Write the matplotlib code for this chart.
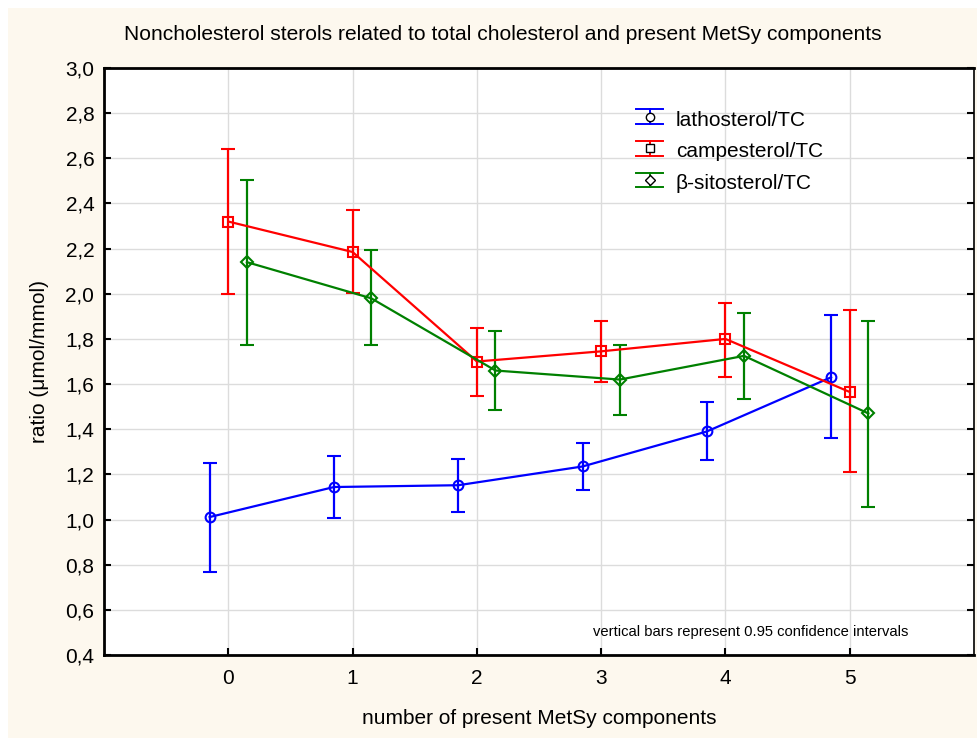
import matplotlib
matplotlib.use("Agg")
import matplotlib.pyplot as plt
from matplotlib.ticker import FuncFormatter, MultipleLocator
from matplotlib.patches import Rectangle
from matplotlib.legend_handler import HandlerBase
from matplotlib.lines import Line2D
import numpy as np

plt.rcParams['font.family'] = ['Liberation Sans', 'DejaVu Sans']

components = [0, 1, 2, 3, 4, 5]
x_ticklabels = ["0", "1", "2", "3", "4", "5"]

latho_mean = [1.011, 1.144, 1.152, 1.235, 1.390, 1.630]
latho_low = [0.768, 1.005, 1.035, 1.130, 1.265, 1.360]
latho_high = [1.251, 1.280, 1.270, 1.340, 1.520, 1.905]

campe_mean = [2.320, 2.185, 1.700, 1.745, 1.800, 1.565]
campe_low = [2.000, 2.005, 1.545, 1.610, 1.630, 1.210]
campe_high = [2.640, 2.370, 1.850, 1.880, 1.960, 1.930]

sito_mean = [2.140, 1.980, 1.660, 1.620, 1.725, 1.470]
sito_low = [1.775, 1.775, 1.485, 1.465, 1.535, 1.055]
sito_high = [2.505, 2.195, 1.835, 1.775, 1.915, 1.880]

series = [
    ("lathosterol/TC", latho_mean, latho_low, latho_high, "#0000ff", "o", -0.15),
    ("campesterol/TC", campe_mean, campe_low, campe_high, "#ff0000", "s", 0.0),
    ("\u03b2-sitosterol/TC", sito_mean, sito_low, sito_high, "#008000", "D", 0.15),
]


class ErrHandle:
    def __init__(self, color, marker):
        self.color = color
        self.marker = marker


class ErrHandler(HandlerBase):
    def create_artists(self, legend, orig, xd, yd, width, height, fontsize, trans):
        c = orig.color
        cy = height / 2 - yd + height * 0.1
        top = cy + height * 0.38
        bot = cy - height * 0.38
        x0, x1 = -xd, -xd + width
        xm = (x0 + x1) / 2
        arts = [
            Line2D([x0, x1], [top, top], color=c, lw=1.4, transform=trans),
            Line2D([x0, x1], [bot, bot], color=c, lw=1.4, transform=trans),
            Line2D([xm, xm], [bot, top], color=c, lw=1.4, transform=trans),
            Line2D([xm], [cy], marker=orig.marker, markersize=6 if orig.marker != "D" else 5.5,
                   markerfacecolor="white", markeredgecolor="black", markeredgewidth=1.0,
                   linestyle="none", transform=trans),
        ]
        return arts


W, H = 977, 738
fig = plt.figure(figsize=(W / 100, H / 100), dpi=100, facecolor="white")
fig.patches.append(Rectangle((8 / W, 0), 1 - 8 / W, 1 - 8 / H, transform=fig.transFigure,
                             facecolor="#fdf8ee", edgecolor="none", zorder=-10))

ax = fig.add_axes([104 / W, 1 - 655 / H, 870 / W, 587 / H])
ax.set_facecolor("white")

handles = []
labels = []
for label, m, lo, hi, col, mk, off in series:
    m = np.array(m); lo = np.array(lo); hi = np.array(hi)
    xs = np.array(components) + off
    ax.errorbar(xs, m, yerr=[m - lo, hi - m], color=col, ecolor=col, lw=1.6,
                elinewidth=1.6, capsize=5, capthick=1.6, marker=mk,
                markersize=7 if mk != "D" else 6, markerfacecolor="none",
                markeredgecolor=col, markeredgewidth=1.5, zorder=3)
    handles.append(ErrHandle(col, mk))
    labels.append(label)

ax.set_xlim(-1, 6)
ax.set_ylim(0.4, 3.0)
ax.set_xticks(components)
ax.set_xticklabels(x_ticklabels)
ax.yaxis.set_major_locator(MultipleLocator(0.2))
ax.yaxis.set_major_formatter(FuncFormatter(lambda v, p: f"{v:.1f}".replace(".", ",")))
ax.grid(True, color="#dcdcdc", lw=1)
ax.set_axisbelow(True)
ax.tick_params(axis="both", direction="in", length=5, width=1.5, labelsize=15, pad=7)
ax.tick_params(axis="x", pad=10)
ax.tick_params(axis="y", right=True, pad=7)
for s in ["left", "bottom", "top"]:
    ax.spines[s].set_linewidth(2)
ax.spines["right"].set_linewidth(1.2)

fig.text(503 / W, 1 - 35 / H, "Noncholesterol sterols related to total cholesterol and present MetSy components",
         ha="center", va="center", fontsize=15.1)
ax.set_xlabel("number of present MetSy components", fontsize=15, labelpad=15)
ax.set_ylabel("ratio (\u03bcmol/mmol)", fontsize=15, labelpad=12)

ax.text(0.924, 0.04, "vertical bars represent 0.95 confidence intervals", transform=ax.transAxes,
        ha="right", va="center", fontsize=10.6)

ax.legend(handles, labels, handler_map={ErrHandle: ErrHandler()},
          loc="upper left", bbox_to_anchor=(0.59, 0.962), frameon=False, fontsize=15,
          handlelength=1.3, handleheight=1.0, labelspacing=0.55, handletextpad=0.6)

fig.savefig("out.png", dpi=100, facecolor=fig.get_facecolor())
